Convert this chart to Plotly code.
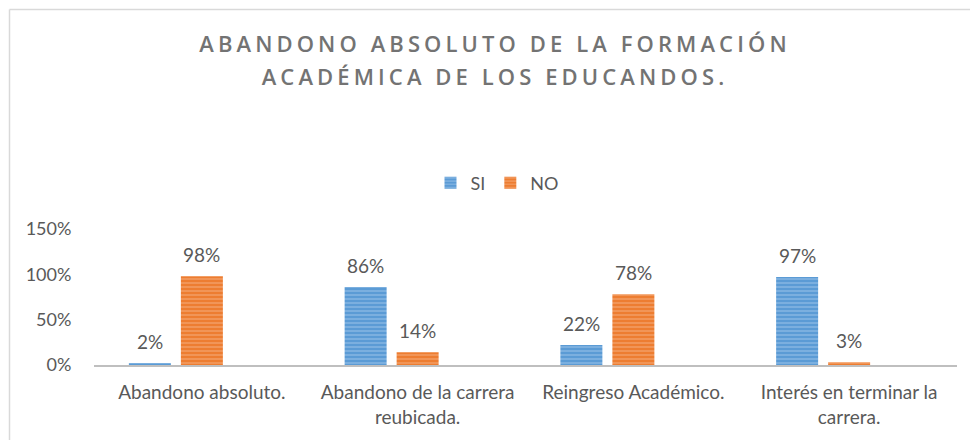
import plotly.graph_objects as go

# ---- data ----
categories = ["Abandono absoluto.", "Abandono de la carrera reubicada.",
              "Reingreso Académico.", "Interés en terminar la carrera."]
tick_labels = ["Abandono absoluto.", "Abandono de la carrera<br>reubicada.",
               "Reingreso Académico.", "Interés en terminar la<br>carrera."]
si_values = [0.02, 0.86, 0.22, 0.97]
no_values = [0.98, 0.14, 0.78, 0.03]
series_names = ["SI", "NO"]
title_text = "ABANDONO ABSOLUTO DE LA FORMACIÓN<br>ACADÉMICA DE LOS EDUCANDOS."

# ---- layout constants ----
W, H = 970, 440
ML, MR, MT, MB = 94, 13, 229, 75
plot_w = W - ML - MR
plot_h = H - MT - MB
cat_px = plot_w / len(categories)
bar_px = 42
slot_px = 52
FONT = "Lato"
TXT = "#595959"

centers = {"SI": -slot_px, "NO": 0}
colors = {"SI": "#5b9bd5", "NO": "#ed7d31"}
stripe = {"SI": "#b7d3ef", "NO": "#f8c29c"}

fig = go.Figure()
for name, vals in zip(series_names, [si_values, no_values]):
    c = centers[name]
    fig.add_trace(go.Bar(
        name=name, x=categories, y=vals,
        width=bar_px / cat_px,
        offset=(c - bar_px / 2) / cat_px,
        marker=dict(color=colors[name], line=dict(width=0),
                    pattern=dict(shape="-", fgcolor=stripe[name], bgcolor=colors[name],
                                 size=4, solidity=0.35, fillmode="overlay")),
    ))
    for cat, v in zip(categories, vals):
        fig.add_annotation(x=cat, y=v, xref="x", yref="y", text=f"{round(v*100)}%",
                           showarrow=False, xshift=c, yshift=8, yanchor="bottom",
                           font=dict(family=FONT, size=19, color=TXT))

# chart border (top and left visible)
bx = (9.5 - ML) / plot_w
by = (H - MB - 9.5) / plot_h
fig.add_shape(type="line", xref="paper", yref="paper", x0=bx, x1=(W + 5 - ML) / plot_w,
              y0=by, y1=by, line=dict(color="#d9d9d9", width=1.5))
fig.add_shape(type="line", xref="paper", yref="paper", x0=bx, x1=bx,
              y0=by, y1=-(MB + 5) / plot_h, line=dict(color="#d9d9d9", width=1.5))

fig.update_layout(
    width=W, height=H, margin=dict(l=ML, r=MR, t=MT, b=MB, pad=0, autoexpand=False),
    paper_bgcolor="white", plot_bgcolor="white",
    barmode="overlay",
    title=dict(text=title_text, x=495 / W, xref="container", xanchor="center",
               y=1 - 52 / H, yref="container", yanchor="top",
               font=dict(family="Open Sans", size=22, color="#737373", weight=600)),
    legend=dict(orientation="h", x=(497 - ML) / plot_w, xanchor="center",
                y=(H - MB - 183) / plot_h,
                yanchor="middle", font=dict(family=FONT, size=18, color=TXT),
                itemwidth=30, traceorder="normal"),
    xaxis=dict(type="category", tickmode="array", tickvals=categories, ticktext=tick_labels,
               showline=True, linecolor="#bfbfbf", linewidth=2, showgrid=False,
               ticks="outside", ticklen=9, tickcolor="rgba(0,0,0,0)", tickangle=0,
               tickfont=dict(family=FONT, size=19, color=TXT), fixedrange=True),
    yaxis=dict(range=[0, 1.5], tickvals=[0, 0.5, 1.0, 1.5], tickformat=".0%",
               showgrid=False, zeroline=False, showline=False, ticks="outside",
               ticklen=18, tickcolor="rgba(0,0,0,0)",
               tickfont=dict(family=FONT, size=18, color=TXT), fixedrange=True),
    showlegend=True,
)

post = """
document.body.style.margin = '0';
var gd = document.getElementById('{plot_id}');
gd.querySelectorAll('.gtitle').forEach(function(el){
  el.style.letterSpacing = '4.1px';
  var lines = el.querySelectorAll('tspan.line');
  for (var i = 1; i < lines.length; i++) { lines[i].setAttribute('dy', '33px'); }
});
"""
fig.write_html("out.html", post_script=post, config={"displayModeBar": False})
